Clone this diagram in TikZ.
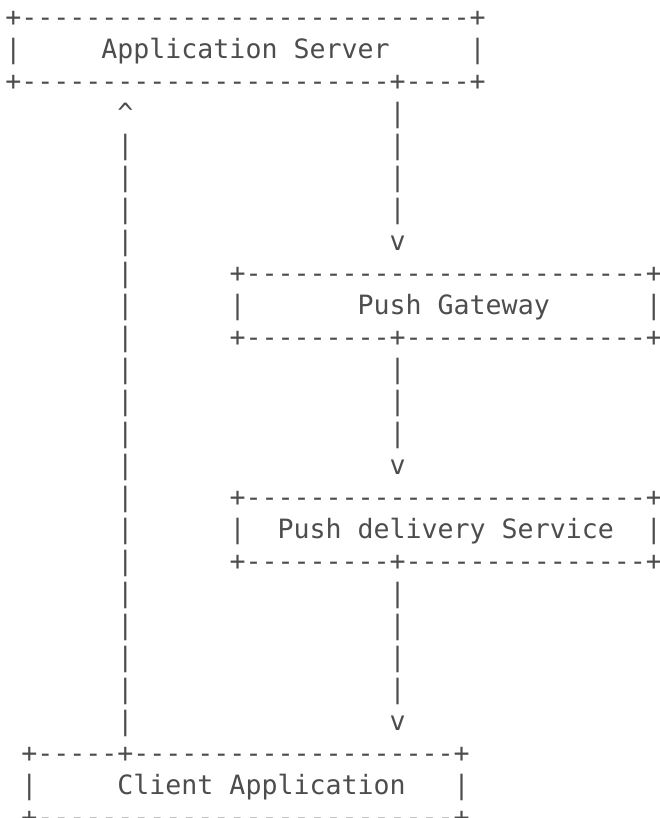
\documentclass[tikz,border=0pt]{standalone}
\usepackage{fontspec}
\setmonofont{DejaVu Sans Mono}
\definecolor{ink}{RGB}{77,77,77}
\newcommand\Rp[2]{\foreach\rpi in {1,...,#1}{#2}}
\newcommand\Sp[1]{\Rp{#1}{~}}
\newcommand\Dh[1]{\Rp{#1}{-}}
\tikzset{ascii/.style={anchor=base west, inner sep=0pt, outer sep=0pt,
  font=\ttfamily\fontsize{26.6pt}{32pt}\selectfont, text=ink}}
\newcommand\Lrow[2]{\node[ascii] (r#1) at (5.3pt,{-26.2pt-32pt*#1}) {#2};}
\begin{document}
\begin{tikzpicture}
\fill[white] (0,0) rectangle (660pt,-818pt);
\useasboundingbox (0,0) rectangle (660pt,-818pt);
\Lrow{0}{+\Dh{28}+}
\Lrow{1}{|\Sp{5}Application Server\Sp{5}|}
\Lrow{2}{+\Dh{23}+\Dh{4}+}
\Lrow{3}{\Sp{7}\symbol{94}\Sp{16}|}
\Lrow{4}{\Sp{7}|\Sp{16}|}
\Lrow{5}{\Sp{7}|\Sp{16}|}
\Lrow{6}{\Sp{7}|\Sp{16}|}
\Lrow{7}{\Sp{7}|\Sp{16}v}
\Lrow{8}{\Sp{7}|\Sp{6}+\Dh{25}+}
\Lrow{9}{\Sp{7}|\Sp{6}|\Sp{7}Push Gateway\Sp{6}|}
\Lrow{10}{\Sp{7}|\Sp{6}+\Dh{9}+\Dh{15}+}
\Lrow{11}{\Sp{7}|\Sp{16}|}
\Lrow{12}{\Sp{7}|\Sp{16}|}
\Lrow{13}{\Sp{7}|\Sp{16}|}
\Lrow{14}{\Sp{7}|\Sp{16}v}
\Lrow{15}{\Sp{7}|\Sp{6}+\Dh{25}+}
\Lrow{16}{\Sp{7}|\Sp{6}|\Sp{2}Push delivery Service\Sp{2}|}
\Lrow{17}{\Sp{7}|\Sp{6}+\Dh{9}+\Dh{15}+}
\Lrow{18}{\Sp{7}|\Sp{16}|}
\Lrow{19}{\Sp{7}|\Sp{16}|}
\Lrow{20}{\Sp{7}|\Sp{16}|}
\Lrow{21}{\Sp{7}|\Sp{16}|}
\Lrow{22}{\Sp{7}|\Sp{16}v}
\Lrow{23}{\Sp{1}+\Dh{5}+\Dh{20}+}
\Lrow{24}{\Sp{1}|\Sp{5}Client Application\Sp{3}|}
\Lrow{25}{\Sp{1}+\Dh{26}+}
\end{tikzpicture}
\end{document}
